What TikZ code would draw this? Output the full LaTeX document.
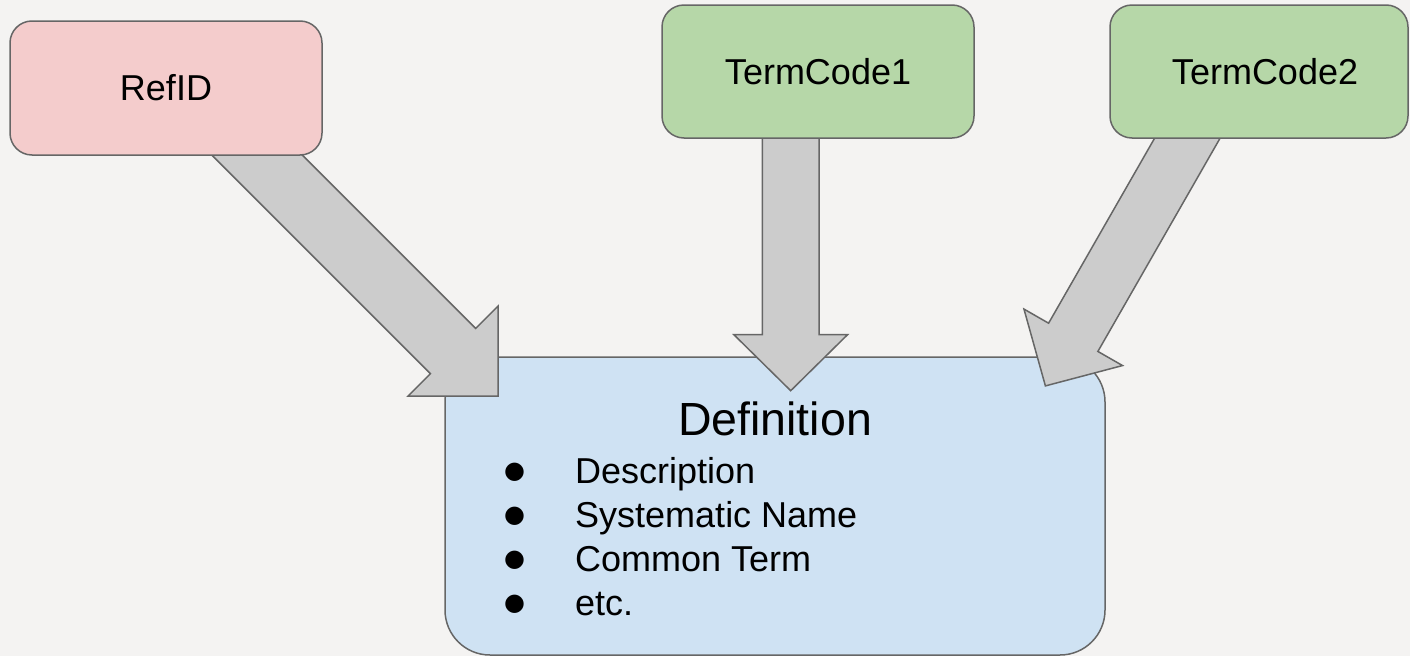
\documentclass[tikz,border=0pt]{standalone}
\usepackage{fontspec}
\setmainfont{Liberation Sans}
\newfontfamily\symfont{DejaVu Sans}
\usetikzlibrary{calc}
\definecolor{bgcol}{HTML}{F4F3F2}
\definecolor{pinkfill}{HTML}{F4CCCC}
\definecolor{greenfill}{HTML}{B6D7A8}
\definecolor{bluefill}{HTML}{CFE2F3}
\definecolor{arrfill}{HTML}{CCCCCC}
\definecolor{edgecol}{HTML}{666666}
\newcommand\myblockarrow[5]{%
  \coordinate (hb) at ($(#2)!#5!(#1)$);
  \filldraw[blockarr] ($(#1)!#3!90:(#2)$) -- ($(hb)!#3!90:(#2)$) -- ($(hb)!#4!90:(#2)$) -- (#2)
    -- ($(hb)!#4!-90:(#2)$) -- ($(hb)!#3!-90:(#2)$) -- ($(#1)!#3!-90:(#2)$) -- cycle;}
\begin{document}
\begin{tikzpicture}[x=1pt,y=-1pt,
  topbox/.style={draw=edgecol, line width=1.5pt, rounded corners=22pt, minimum height=133pt, inner sep=0pt, font=\fontsize{36}{43}\selectfont},
  defbox/.style={draw=edgecol, fill=bluefill, line width=1.5pt, rounded corners=45pt, minimum width=660pt, minimum height=298pt, inner sep=0pt},
  blockarr/.style={fill=arrfill, draw=edgecol, line width=1.5pt, line join=miter},
  item/.style={anchor=base west, inner sep=0pt, font=\fontsize{36}{43}\selectfont},
  bul/.style={inner sep=0pt, font=\symfont\fontsize{24}{28}\selectfont}]
\useasboundingbox (0,0) rectangle (1410,656);
\fill[bgcol] (0,0) rectangle (1410,656);
% Definition box
\node[defbox] (def) at (775,506) {};
\node[anchor=base, inner sep=0pt, font=\fontsize{46.5}{56}\selectfont] (deftitle) at (775,435) {Definition};
\node[item] (i1) at (575,483) {Description};
\node[item] (i2) at (575,527) {Systematic Name};
\node[item] (i3) at (575,571) {Common Term};
\node[item] (i4) at (575,615) {etc.};
\node[bul] (b1) at (514.5,472) {●};
\node[bul] (b2) at (514.5,516) {●};
\node[bul] (b3) at (514.5,560) {●};
\node[bul] (b4) at (514.5,604) {●};
% arrows
\coordinate (s1) at (230,128);    \coordinate (t1) at (498,396);
\coordinate (s2) at (790.7,100);  \coordinate (t2) at (790.7,390.7);
\coordinate (s3) at (1201.6,113.3); \coordinate (t3) at (1045.4,385.9);
\myblockarrow{s1}{t1}{32pt}{63.6pt}{63.6pt}
\myblockarrow{s2}{t2}{28.3pt}{56.8pt}{56pt}
\myblockarrow{s3}{t3}{28.4pt}{56.8pt}{56pt}
% top boxes
\node[topbox, fill=pinkfill, minimum width=312pt, minimum height=134pt] (ref) at (166,88) {RefID};
\node[topbox, fill=greenfill, minimum width=312pt] (tc1) at (818,71.5) {TermCode1};
\node[topbox, fill=greenfill, minimum width=298pt] (tc2) at (1259,71.5) {\hspace*{12pt}TermCode2};
\end{tikzpicture}
\end{document}
